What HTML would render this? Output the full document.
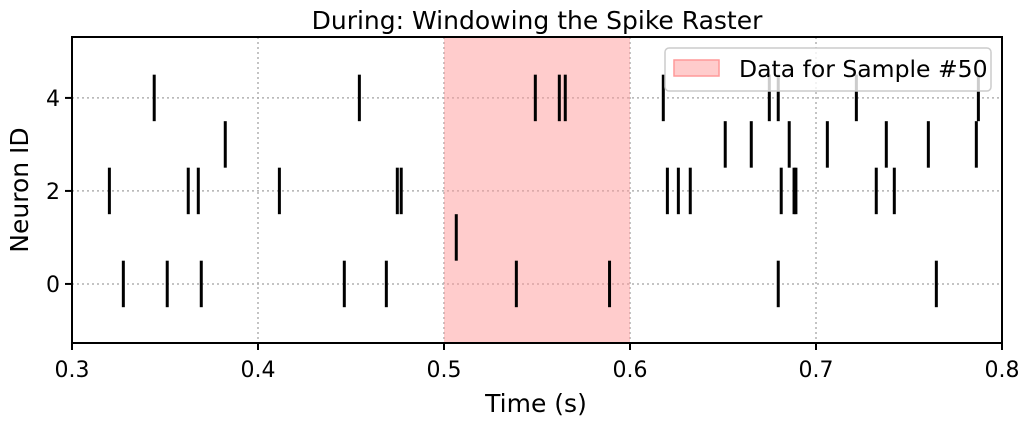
<!DOCTYPE html>
<html><head><meta charset="utf-8"><style>
body{margin:0;background:#fff;}
svg text{font-family:"DejaVu Sans","Liberation Sans",sans-serif;fill:#000;}
</style></head><body>
<svg id="chart" width="1029" height="425" xmlns="http://www.w3.org/2000/svg">
<text x="537" y="29" font-size="25" text-anchor="middle">During: Windowing the Spike Raster</text>
<g id="grid"></g>
<rect id="window" fill="#ff9999" fill-opacity="0.5"></rect>
<g id="spikes"></g>
<g id="legend">
<rect x="665" y="48" width="326" height="43" rx="4" fill="#fff" fill-opacity="0.8" stroke="#ccc" stroke-width="1.5"/>
<rect x="674" y="60" width="45" height="16" fill="#ff9999" fill-opacity="0.5" stroke="#ff9999" stroke-width="1.5"/>
<text x="739" y="77" font-size="23.5">Data for Sample #50</text>
</g>
<rect x="72" y="37" width="930" height="306" fill="none" stroke="#000" stroke-width="2"/>
<g id="axes"></g>
<text x="536" y="412" font-size="25" text-anchor="middle">Time (s)</text>
<text transform="translate(28,190) rotate(-90)" font-size="25" text-anchor="middle">Neuron ID</text>
</svg>
<script>
const neuronIds = [0, 1, 2, 3, 4];
const spikes0 = [0.3276, 0.3512, 0.3695, 0.4464, 0.4690, 0.5389, 0.5890, 0.6797, 0.7647];
const spikes1 = [0.5066];
const spikes2 = [0.3201, 0.3625, 0.3679, 0.4115, 0.4749, 0.4770, 0.6201, 0.6260, 0.6324, 0.6813, 0.6882, 0.6892, 0.7324, 0.7421];
const spikes3 = [0.3824, 0.6512, 0.6652, 0.6856, 0.7061, 0.7378, 0.7604, 0.7862];
const spikes4 = [0.3442, 0.4545, 0.5491, 0.5620, 0.5652, 0.6179, 0.6749, 0.6797, 0.7217, 0.7873];
const windowRange = [0.5, 0.6];
const xTicks = [0.3, 0.4, 0.5, 0.6, 0.7, 0.8];
const xTickLabels = ["0.3", "0.4", "0.5", "0.6", "0.7", "0.8"];
const yTicks = [0, 2, 4];
const yTickLabels = ["0", "2", "4"];
const xDomain = [0.3, 0.8];
const yDomain = [-1.27, 5.31];

const NS = "http://www.w3.org/2000/svg";
const L = 72, R = 1002, T = 37, B = 343;
const sx = v => L + (v - xDomain[0]) / (xDomain[1] - xDomain[0]) * (R - L);
const sy = v => B - (v - yDomain[0]) / (yDomain[1] - yDomain[0]) * (B - T);
function mk(tag, attrs, parent) {
  const e = document.createElementNS(NS, tag);
  for (const k in attrs) e.setAttribute(k, attrs[k]);
  parent.appendChild(e);
  return e;
}
const grid = document.getElementById("grid");
const axes = document.getElementById("axes");
xTicks.forEach((v, i) => {
  const g = mk("line", {x1: sx(v), x2: sx(v), y1: T, y2: B, stroke: "#b0b0b0", "stroke-width": 1.5, "stroke-dasharray": "2,3"}, grid);
  
  
  const t = mk("line", {x1: sx(v), x2: sx(v), y1: B, y2: B + 7, stroke: "#000", "stroke-width": 2}, axes);
  
  
  const lb = mk("text", {x: sx(v), y: B + 34, "font-size": 22, "text-anchor": "middle"}, axes);
  lb.textContent = xTickLabels[i];
  
  
});
yTicks.forEach((v, i) => {
  const g = mk("line", {x1: L, x2: R, y1: sy(v), y2: sy(v), stroke: "#b0b0b0", "stroke-width": 1.5, "stroke-dasharray": "2,3"}, grid);
  
  
  const t = mk("line", {x1: L - 7, x2: L, y1: sy(v), y2: sy(v), stroke: "#000", "stroke-width": 2}, axes);
  
  
  const lb = mk("text", {x: L - 12, y: sy(v) + 8, "font-size": 22, "text-anchor": "end"}, axes);
  lb.textContent = yTickLabels[i];
  
  
});
const w = document.getElementById("window");
w.setAttribute("x", sx(windowRange[0]));
w.setAttribute("width", sx(windowRange[1]) - sx(windowRange[0]));
w.setAttribute("y", T);
w.setAttribute("height", B - T);
const sp = document.getElementById("spikes");
const allSpikes = [spikes0, spikes1, spikes2, spikes3, spikes4];
allSpikes.forEach((arr, n) => {
  const id = neuronIds[n];
  arr.forEach(t => {
    const l = mk("line", {x1: sx(t), x2: sx(t), y1: sy(id + 0.5), y2: sy(id - 0.5), stroke: "#000", "stroke-width": 3}, sp);
    
    
  });
});
</script>
</body></html>
